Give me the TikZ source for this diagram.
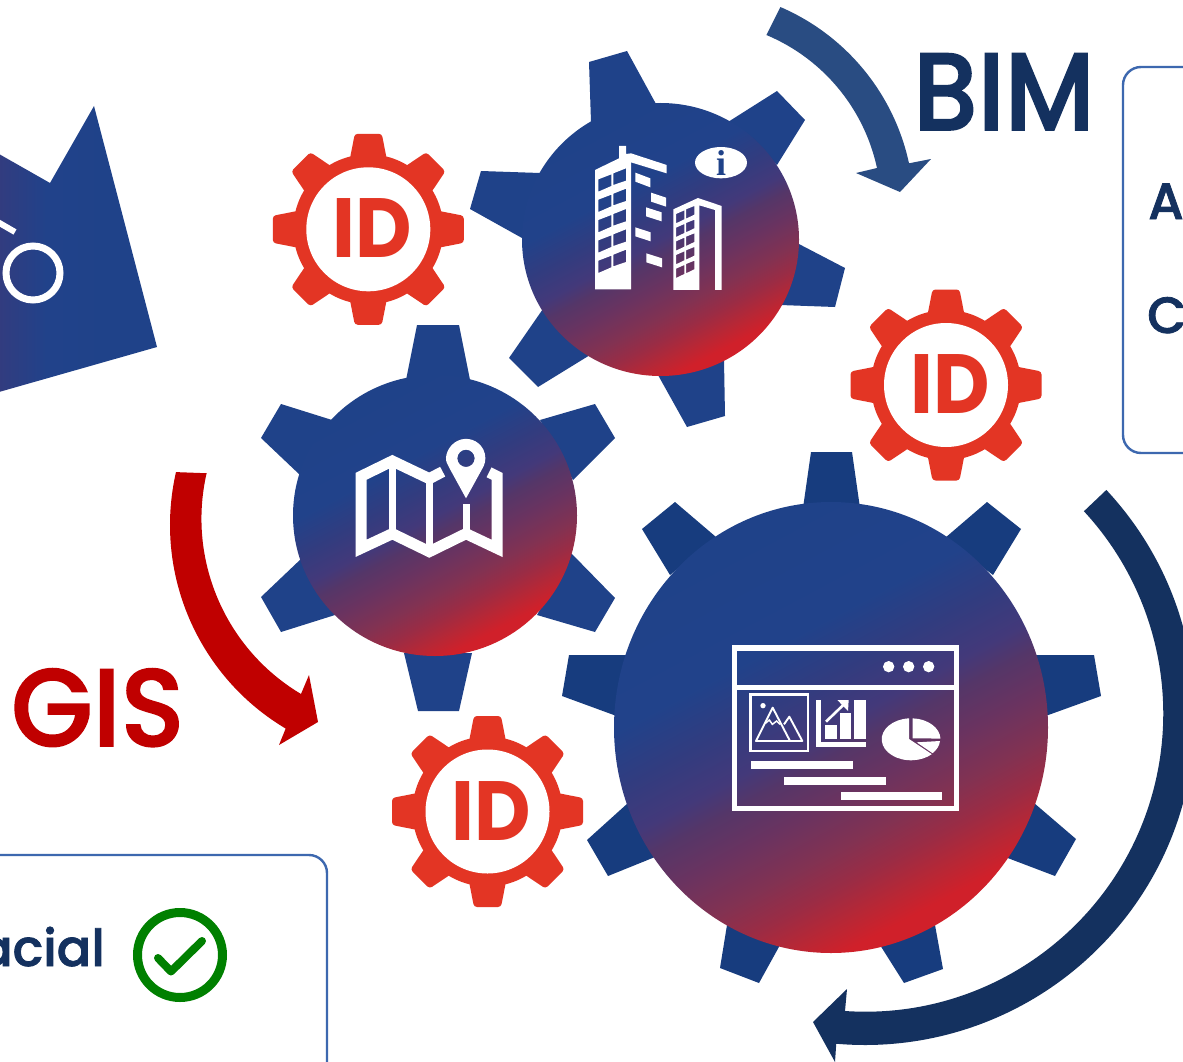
\documentclass[tikz,border=0pt]{standalone}
\usepackage{fontspec}
\setmainfont{Poppins}[BoldFont={Poppins Bold}]
\newfontfamily\popm{Poppins Medium}[FakeBold=1.5]
\newfontfamily\serifb{Liberation Serif Bold}
\definecolor{gA}{HTML}{1F4289}
\definecolor{gB}{HTML}{21428A}
\definecolor{gC}{HTML}{323C7F}
\definecolor{gCC}{HTML}{43397A}
\definecolor{gD}{HTML}{553668}
\definecolor{gDD}{HTML}{6A3360}
\definecolor{gE}{HTML}{823252}
\definecolor{gEE}{HTML}{9A2C45}
\definecolor{gF}{HTML}{B82735}
\definecolor{gG}{HTML}{D0202A}
\definecolor{toothA}{HTML}{1F4289}
\definecolor{toothB}{HTML}{173C7E}
\definecolor{idred}{HTML}{E33524}
\definecolor{navy}{HTML}{14315F}
\definecolor{arrowblue}{HTML}{294C82}
\definecolor{boxblue}{HTML}{3D68AF}
\definecolor{gisred}{HTML}{C00000}
\definecolor{okgreen}{HTML}{008000}
\pgfdeclareverticalshading{gearsh}{100bp}{color(0bp)=(gG);color(27bp)=(gG);color(30bp)=(gF);color(33.75bp)=(gEE);color(37.5bp)=(gE);color(42.5bp)=(gDD);color(47bp)=(gD);color(50bp)=(gCC);color(55bp)=(gC);color(61bp)=(gB);color(75bp)=(gA);color(100bp)=(gA)}
\pgfdeclarehorizontalshading{leftsh}{100bp}{color(0bp)=(gC);color(25bp)=(gC);color(40bp)=(gB);color(60bp)=(gA);color(100bp)=(gA)}
\tikzset{
  toothone/.style={fill=toothA},
  toothtwo/.style={fill=toothB},
  gearcore/.style={shading=gearsh,shading angle=28},
  iconline/.style={draw=white,fill=none,line join=miter},
  frame/.style={draw=boxblue,line width=2.4pt,rounded corners=18pt},
  bigtext/.style={inner sep=0pt,anchor=base west,font=\popm\fontsize{110}{110}\selectfont},
  sidetext/.style={inner sep=0pt,text=navy,font=\popm\fontsize{51}{51}\selectfont},
  idtext/.style={inner sep=0pt,anchor=base,text=idred,font=\bfseries\fontsize{84}{84}\selectfont},
}
\newcommand{\idgear}[2]{%
  \begin{scope}[shift={(#1,#2)}]
    \fill[idred] (0,0) circle[radius=75];
    \foreach \a in {0,45,...,315}{
      \fill[idred,rounded corners=3pt,rotate=\a] (-18.5,-70) -- (-13.5,-95.5) -- (13.5,-95.5) -- (18.5,-70) -- cycle;
    }
    \fill[white] (0,0) circle[radius=62];
    \node[idtext] at (4,28.5) {\scalebox{0.925}[1]{ID}};
  \end{scope}}
\begin{document}
\begin{tikzpicture}[x=1pt,y=-1pt]
\useasboundingbox (0,0) rectangle (1183,1062);
\clip (0,0) rectangle (1183,1062);
\fill[white] (0,0) rectangle (1183,1062);

% left cropped gear
\shade[shading=leftsh] (-1,154) -- (50,183) -- (94,106) -- (157,347) -- (-1,392) -- cycle;
\draw[white,line width=6pt] (-4,221) -- (15,232);
\draw[white,line width=7pt] (33,273) circle[radius=27];

% boxes
\draw[frame] (1300,67) -- (1123,67) -- (1123,453) -- (1300,453);
\draw[frame] (-30,855) -- (327,855) -- (327,1110);
\node[sidetext,anchor=base west] at (1148,219) {A};
\node[sidetext,anchor=base west] at (1147,333) {C};
\node[inner sep=0pt,anchor=base east,text=navy,font=\popm\fontsize{51}{51}\selectfont] at (105,966) {acial};

% check mark
\draw[okgreen,line width=9pt] (180,955) circle[radius=42.5];
\draw[okgreen,line width=8pt,line cap=round,line join=round] (158,958) -- (171,971.5) -- (202,941);

% titles
\node[bigtext,text=navy] at (913,130) {\scalebox{0.93}[1]{BIM}};
\node[bigtext,text=gisred] at (11,746) {\scalebox{0.96}[1]{GIS}};

% arrows
\fill[arrowblue] (693,210) ++(-66.7:221) arc[start angle=-66.7,end angle=-12.2,radius=221]
  -- (931,159) -- (900,192) -- (856,173) -- (877,168) arc[start angle=-12.2,end angle=-67.3,radius=187] -- cycle;
\fill[gisred] (407,525) ++(192.9:237) arc[start angle=192.9,end angle=120.8,radius=237]
  -- (279,745) -- (318,722) -- (309,675) -- (301,694) arc[start angle=120.8,end angle=192.9,radius=204] -- cycle;
\fill[navy] (865,715) ++(-43:330) arc[start angle=-43,end angle=95,radius=330]
  -- (835,1062) -- (813,1022) -- (847,989) -- (845,1011) arc[start angle=93.9,end angle=-42.8,radius=298] -- cycle;

% gear 1: building
\fill[toothone] (589,62) -- (627,51) -- (656,104) -- (591,122) -- cycle;
\fill[toothone] (777,91) -- (805,120) -- (777,165) -- (728,122) -- cycle;
\fill[toothone] (845,268) -- (835,307) -- (780,305) -- (797,243) -- cycle;
\fill[toothone] (725,416) -- (687,427) -- (658,375) -- (724,360) -- cycle;
\fill[toothone] (538,387) -- (509,358) -- (545,306) -- (590,355) -- cycle;
\fill[toothone] (470,209) -- (481,171) -- (540,173) -- (522,238) -- cycle;
\shade[gearcore] (660.5,239.5) ellipse[x radius=138.5,y radius=136.5];

% gear 2: map
\fill[toothone] (417,325) -- (459,325) -- (470,380) -- (406,380) -- cycle;
\fill[toothone] (595,404) -- (615,438) -- (573,480) -- (540,420) -- cycle;
\fill[toothone] (615,598) -- (595,632) -- (537,615) -- (571,553) -- cycle;
\fill[toothone] (459,711) -- (418,711) -- (404,653) -- (472,653) -- cycle;
\fill[toothone] (281,632) -- (261,597) -- (302,558) -- (335,615) -- cycle;
\fill[toothone] (261,438) -- (281,404) -- (332,420) -- (300,475) -- cycle;
\shade[gearcore] (435,515.5) ellipse[x radius=142,y radius=140.5];

% gear 3: dashboard
\fill[toothtwo] (811,452) -- (852,452) -- (861,515) -- (802,515) -- cycle;
\fill[toothtwo] (987,502) -- (1021,529) -- (993,575) -- (945,538) -- cycle;
\fill[toothtwo] (1094,655) -- (1101,696) -- (1040,718) -- (1030,655) -- cycle;
\fill[toothtwo] (1076,839) -- (1055,876) -- (1005,857) -- (1034,803) -- cycle;
\fill[toothtwo] (943,969) -- (904,983) -- (880,945) -- (935,925) -- cycle;
\fill[toothtwo] (759,983) -- (720,968) -- (727,925) -- (780,945) -- cycle;
\fill[toothtwo] (608,876) -- (587,840) -- (628,803) -- (655,857) -- cycle;
\fill[toothtwo] (562,696) -- (569,655) -- (632,655) -- (622,718) -- cycle;
\fill[toothtwo] (642,529) -- (675,502) -- (716,537) -- (670,575) -- cycle;
\shade[gearcore] (831,727.5) ellipse[x radius=217,y radius=225.5];

% id gears
\idgear{368.3}{229.3}
\idgear{946}{385}
\idgear{487.5}{811.5}

% building icon
\begin{scope}[shift={(570,130)},scale=0.33333]
  \fill[white,even odd rule]
    (75,120) -- (147,85) -- (147,48) -- (168,48) -- (168,72) -- (183,70) -- (290,105) -- (290,130) -- (183,97) -- (183,478) -- (75,478) -- cycle
    \foreach \r in {0,61,122,183,244}{
      (85,148+\r) -- (124,133+\r) -- (124,168+\r) -- (85,185+\r) -- cycle
      (130,130+\r) -- (168,115+\r) -- (168,152+\r) -- (130,165+\r) -- cycle
    };
  \fill[white] (196,128) -- (241,145) -- (241,172) -- (196,155) -- cycle;
  \fill[white] (243,188) -- (288,203) -- (288,230) -- (243,215) -- cycle;
  \fill[white] (228,232) -- (275,247) -- (275,274) -- (228,259) -- cycle;
  \fill[white] (196,292) -- (242,307) -- (242,334) -- (196,319) -- cycle;
  \fill[white] (229,370) -- (276,385) -- (276,412) -- (229,397) -- cycle;
  \fill[white,even odd rule]
    (310,238) -- (384,204) -- (455,228) -- (455,480) -- (435,480) -- (435,240) -- (388,226) -- (388,480) -- (310,480) -- cycle
    \foreach \r in {0,41,82,123,164}{
      (318,252+\r) -- (343,241+\r) -- (343,268+\r) -- (318,280+\r) -- cycle
      (348,238+\r) -- (373,228+\r) -- (373,254+\r) -- (348,266+\r) -- cycle
    };
  \fill[white] (453,98) ellipse[x radius=78,y radius=47];
  \node[inner sep=0pt,text=gA,font=\serifb\fontsize{36}{36}\selectfont] at (453,98) {i};
\end{scope}

% map icon
\begin{scope}[shift={(340,430)},scale=0.33333]
  \draw[iconline,line width=11pt,miter limit=6] (308,125) -- (268,146) -- (157,93) -- (63,139) -- (63,355) -- (157,311) -- (268,365) -- (378,311) -- (471,355) -- (471,139) -- (447,127);
  \draw[iconline,line width=7pt] (157,93) -- (157,311);
  \draw[iconline,line width=7.5pt] (268,146) -- (268,365);
  \draw[iconline,line width=7pt] (378,222) -- (378,311);
  \fill[white,even odd rule] (378,205) [rounded corners=4pt] -- (326,110) [sharp corners] arc[start angle=154,end angle=385.7,radius=58] -- cycle
    (378,85) circle[radius=26];
\end{scope}

% dashboard icon
\begin{scope}[shift={(720,635)},scale=0.33333]
  \draw[iconline,line width=5.5pt] (43.5,39.5) rectangle (710,520);
  \draw[iconline,line width=5pt] (43.5,158) -- (710,158);
  \foreach \x in {506,566,626}{\fill[white] (\x,95) circle[radius=17];}
  \draw[iconline,line width=2.4pt] (92,179) rectangle (264,348);
  \fill[white] (129,212) circle[radius=8];
  \draw[iconline,line width=1.9pt,line join=round] (108,318) -- (158,218) -- (210,318) -- cycle;
  \draw[iconline,line width=1.9pt,line join=round] (192,268) -- (208,245) -- (247,318) -- (205,318);
  \draw[iconline,line width=1.5pt] (136,265) -- (148,255) -- (157,268) -- (170,258) -- (180,268);
  \draw[iconline,line width=5pt] (296.5,196) -- (296.5,329.5) -- (438,329.5);
  \fill[white] (314,270) rectangle (350,313);
  \fill[white] (359,235) rectangle (393,313);
  \fill[white] (403,196) rectangle (438,313);
  \draw[iconline,line width=2.6pt] (318,260) -- (375,205);
  \fill[white] (352,195) -- (386,195) -- (384,228) -- cycle;
  \fill[white] (567,312) -- (567,250) arc[start angle=266,end angle=45,x radius=88,y radius=63] -- cycle;
  \fill[white] (578,310) -- (578,250) arc[start angle=-87,end angle=-2,x radius=88,y radius=63] -- cycle;
  \fill[white] (590,322) -- (660,318) arc[start angle=5,end angle=42,x radius=88,y radius=63] -- cycle;
  \fill[white] (93,378) rectangle (398,402);
  \fill[white] (193,426) rectangle (498,450);
  \fill[white] (362,472) rectangle (667,496);
\end{scope}
\end{tikzpicture}
\end{document}
